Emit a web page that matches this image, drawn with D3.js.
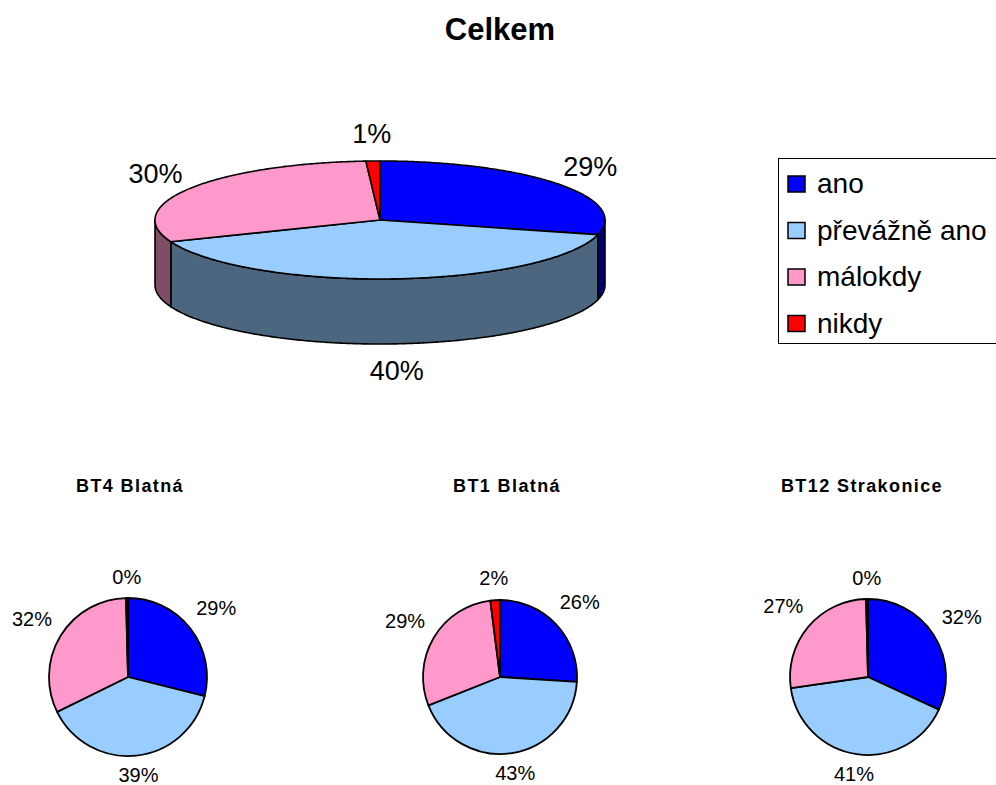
<!DOCTYPE html>
<html>
<head>
<meta charset="utf-8">
<script src="https://cdn.jsdelivr.net/npm/d3@7"></script>
<style>
body { margin: 0; background: #fff; }
text { font-family: "Liberation Sans", Arial, Helvetica, sans-serif; fill: #000; }
</style>
</head>
<body>
<div id="chart"></div>
<script>
// data
const categories = ["ano", "převážně ano", "málokdy", "nikdy"]
const colors = ["#0000ff", "#99ccff", "#ff99cc", "#ff0000"]
const mainTitle = "Celkem"
const celkem = [29, 40, 30, 1]
const pieTitles = ["BT4 Blatná", "BT1 Blatná", "BT12 Strakonice"]
const bt4 = [29, 39, 32, 0.4]
const bt1 = [26, 43, 29, 2]
const bt12 = [32, 41, 27, 0.4]

const width = 996
const height = 785

const svg = d3.select("div#chart").append("svg").attr("width", width).attr("height", height)

const pct = d3.format(".0%")
const pie = d3.pie().sort(null).value(d => d)

// titulek
svg.append("text")
    .attr("x", 500).attr("y", 40)
    .attr("text-anchor", "middle")
    .attr("font-size", 31).attr("font-weight", "bold")
    .text(mainTitle)

// 3D kolac
const big = { cx: 380, cy: 220, rx: 225, ry: 59, depth: 65 }
const proj = (a, dy = 0) => [big.cx + big.rx * Math.sin(a), big.cy - big.ry * Math.cos(a) + dy]
const arcPoints = (a0, a1, dy = 0) => {
    const n = Math.max(2, Math.ceil((a1 - a0) / 0.01))
    return d3.range(n + 1).map(i => proj(a0 + (a1 - a0) * i / n, dy))
}
const line = d3.line()
const sum = d3.sum(celkem)
const bigArcs = pie(celkem)
const bigGroup = svg.append("g").attr("class", "bigPie")

// boky
bigArcs.forEach((d, i) => {
    const a0 = Math.max(d.startAngle, Math.PI / 2)
    const a1 = Math.min(d.endAngle, Math.PI * 3 / 2)
    if (a0 >= a1) return
    const top = arcPoints(a0, a1)
    const bottom = arcPoints(a0, a1, big.depth).reverse()
    const c = d3.rgb(colors[i])
    const side = d3.rgb(c.r * 0.5, c.g * 0.5, c.b * 0.5)
    bigGroup.append("path")
        .attr("d", line(top.concat(bottom)) + "Z")
        .attr("fill", side)
        .attr("stroke", "#000").attr("stroke-width", 1.6).attr("stroke-linejoin", "round")
})

// vrch
bigArcs.forEach((d, i) => {
    const pts = [[big.cx, big.cy]].concat(arcPoints(d.startAngle, d.endAngle))
    bigGroup.append("path")
        .attr("d", line(pts) + "Z")
        .attr("fill", colors[i])
        .attr("stroke", "#000").attr("stroke-width", 1.6).attr("stroke-linejoin", "round")
})

// popisky velkeho kolace
bigArcs.forEach(d => {
    const a = (d.startAngle + d.endAngle) / 2
    const x = big.cx + 266 * Math.sin(a)
    const y = big.cy - 86 * Math.cos(a) + big.depth * Math.max(0, -Math.cos(a))
    bigGroup.append("text")
        .attr("x", x).attr("y", y)
        .attr("text-anchor", "middle").attr("dominant-baseline", "central")
        .attr("font-size", 27)
        .text(pct(d.value / sum))
})

// legenda
const legend = svg.append("g").attr("class", "legend").attr("transform", "translate(778,158)")
legend.append("rect")
    .attr("x", 0.5).attr("y", 0.5).attr("width", 240).attr("height", 185)
    .attr("fill", "#fff").attr("stroke", "#000").attr("stroke-width", 1)
categories.forEach((c, i) => {
    const g = legend.append("g").attr("transform", `translate(10, ${18 + i * 46.5})`)
    g.append("rect").attr("width", 17).attr("height", 16)
        .attr("fill", colors[i]).attr("stroke", "#000").attr("stroke-width", 1.5)
    g.append("text").attr("x", 29).attr("y", 17).attr("font-size", 28).text(c)
})

// male kolace
const smallData = [bt4, bt1, bt12]
const smallCenters = [[128, 677], [500, 677], [868, 677]]
const smallRadius = [79, 77, 78]
const titleX = [130, 507, 862]
const arc = d3.arc().innerRadius(0)

smallData.forEach((values, k) => {
    const r = smallRadius[k]
    const total = d3.sum(values)
    svg.append("text")
        .attr("x", titleX[k]).attr("y", 492)
        .attr("text-anchor", "middle")
        .attr("font-size", 18).attr("font-weight", "bold").attr("letter-spacing", 1.4)
        .text(pieTitles[k])
    const g = svg.append("g").attr("transform", `translate(${smallCenters[k][0]}, ${smallCenters[k][1]})`)
    const arcs = pie(values)
    g.selectAll("path").data(arcs).join("path")
        .attr("d", d => arc.outerRadius(r)(d))
        .attr("fill", (d, i) => colors[i])
        .attr("stroke", "#000").attr("stroke-width", 1.8).attr("stroke-linejoin", "round")
    arcs.forEach(d => {
        const a = (d.startAngle + d.endAngle) / 2
        const t = g.append("text")
            .attr("text-anchor", "middle").attr("dominant-baseline", "central")
            .attr("font-size", 20)
            .text(pct(d.value / total))
        const w = t.node().getComputedTextLength()
        const vert = Math.cos(a) < 0 ? 6 : 10
        const dist = r + 11 + Math.abs(Math.sin(a)) * w / 2 + Math.abs(Math.cos(a)) * vert
        t.attr("x", dist * Math.sin(a)).attr("y", -dist * Math.cos(a))
    })
})
</script>
</body>
</html>
